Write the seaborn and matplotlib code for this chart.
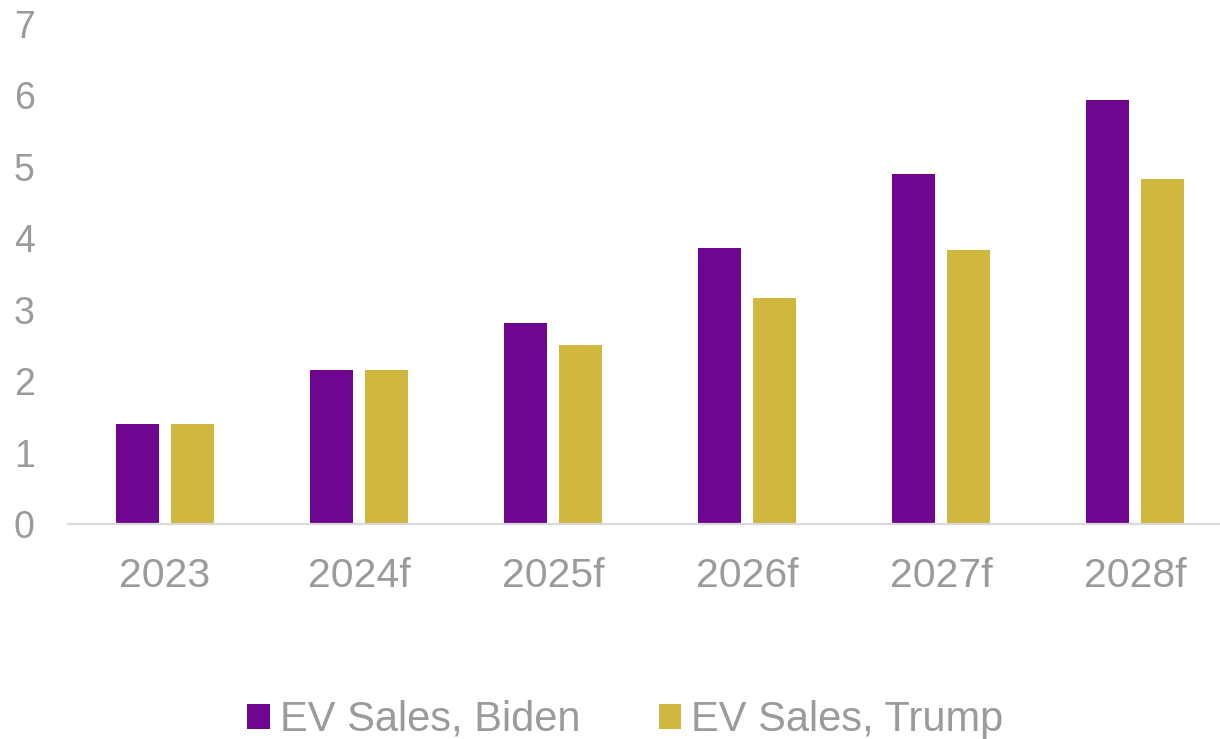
import matplotlib
matplotlib.use("Agg")
import matplotlib.pyplot as plt
import seaborn as sns
import pandas as pd
from matplotlib.patches import Patch

# Forecast EV sales (millions) under two policy scenarios
years = ["2023", "2024f", "2025f", "2026f", "2027f", "2028f"]
biden_sales = [1.4, 2.15, 2.82, 3.86, 4.9, 5.94]
trump_sales = [1.4, 2.15, 2.5, 3.16, 3.83, 4.83]
series_names = ["EV Sales, Biden", "EV Sales, Trump"]
y_ticks = [0, 1, 2, 3, 4, 5, 6, 7]

purple = "#6E068F"
gold = "#CFB83D"
grey_text = "#9B9B9B"

df = pd.DataFrame({
    "year": years * 2,
    "sales": biden_sales + trump_sales,
    "series": [series_names[0]] * len(years) + [series_names[1]] * len(years),
})

sns.set_theme(style="white")
plt.rcParams["font.family"] = ["Liberation Sans", "DejaVu Sans"]

fig = plt.figure(figsize=(12.2, 7.39), dpi=100)
ax = fig.add_axes([68 / 1220, 215 / 739, 1164 / 1220, 500 / 739])

sns.barplot(
    data=df, x="year", y="sales", hue="series",
    palette=[purple, gold], width=0.572, gap=0.225,
    saturation=1, legend=False, ax=ax, linewidth=0,
)

ax.set_ylim(0, 7)
ax.set_xlim(-0.5, len(years) - 0.5)
ax.set_yticks(y_ticks)
ax.set_yticklabels([str(t) for t in y_ticks])
ax.set_xlabel("")
ax.set_ylabel("")

for side in ["left", "right", "top"]:
    ax.spines[side].set_visible(False)
ax.spines["bottom"].set_color("#D9D9D9")
ax.spines["bottom"].set_linewidth(1.6)

ax.tick_params(axis="y", length=0, pad=24, labelsize=27, labelcolor=grey_text)
ax.tick_params(axis="x", length=0, pad=23.5, labelsize=29.5, labelcolor=grey_text)

handles = [Patch(facecolor=purple, edgecolor="none"),
           Patch(facecolor=gold, edgecolor="none")]
leg = fig.legend(
    handles, series_names, loc="center",
    bbox_to_anchor=(625.5 / 1220, 1 - 720 / 739),
    ncol=2, frameon=False, fontsize=30,
    handlelength=0.53, handleheight=0.53, handletextpad=0.24,
    columnspacing=1.9, borderpad=0, borderaxespad=0,
)
for t in leg.get_texts():
    t.set_color(grey_text)

fig.savefig("out.png", dpi=100)
